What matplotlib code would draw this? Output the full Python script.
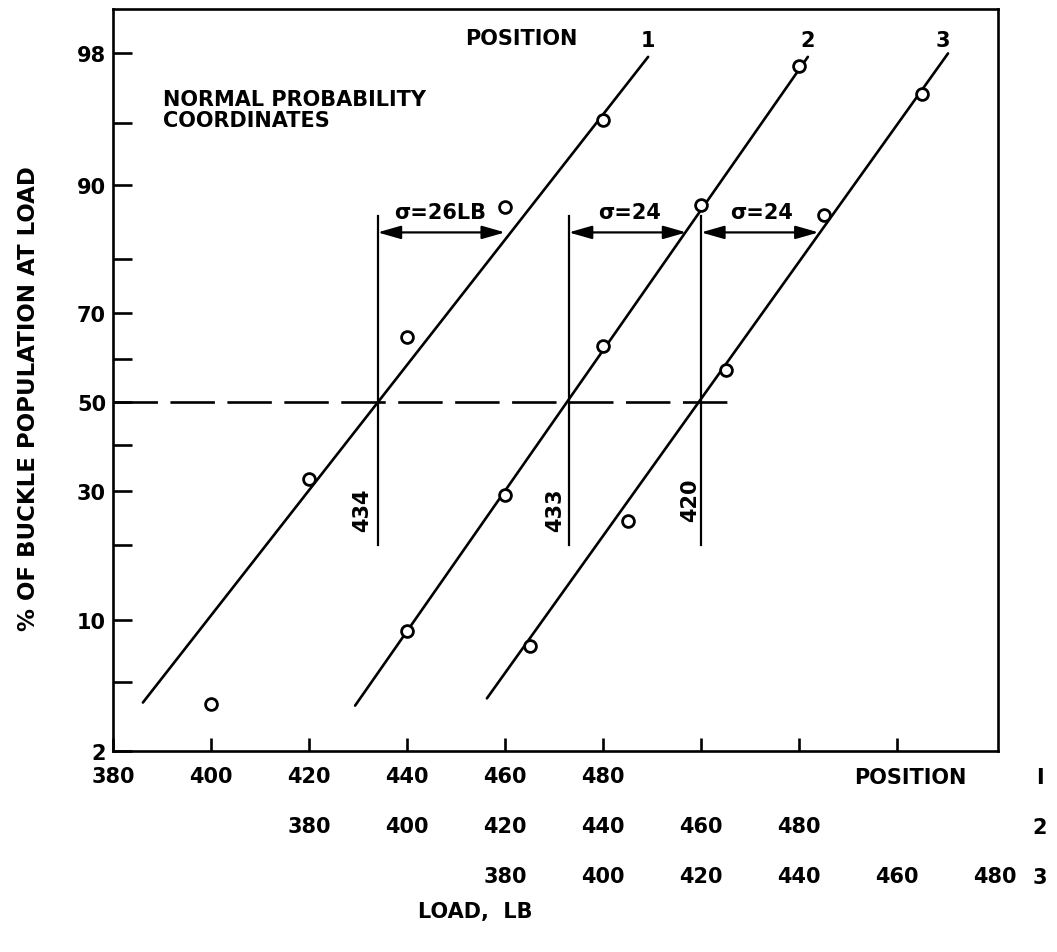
import numpy as np
import matplotlib
matplotlib.use("Agg")
import matplotlib.pyplot as plt
from statistics import NormalDist

# measured points, load in each position's own scale, % buckled
pos1_load = [400, 420, 440, 460, 480]
pos1_pct = [3.8, 32.5, 65.0, 87.5, 95.2]
pos2_load = [400, 420, 440, 460, 480]
pos2_pct = [8.9, 29.2, 63.0, 87.7, 97.6]
pos3_load = [385, 405, 425, 445, 465]
pos3_pct = [7.6, 24.2, 57.5, 86.5, 96.5]

# fitted straight lines (end points)
fit1_load = [386.1, 489.2]
fit1_pct = [3.85, 97.9]
fit2_load = [389.4, 481.8]
fit2_pct = [3.7, 97.9]
fit3_load = [376.3, 470.4]
fit3_pct = [4.06, 98.0]

means = [434, 433, 420]
sigmas = [26, 24, 24]
sigma_text = ["σ=26LB", "σ=24", "σ=24"]
offsets = [0, 40, 80]   # position scales shifted against position 1

y_major = [2, 10, 30, 50, 70, 90, 98]
y_minor = [5, 20, 40, 60, 80, 95]
x_ticks = [380, 400, 420, 440, 460, 480, 500, 520, 540]
x_labels = ["380", "400", "420", "440", "460", "480", "", "", ""]
sec_ticks = [380, 400, 420, 440, 460, 480]

plt.rcParams['font.family'] = ['DejaVu Sans']
plt.rcParams['font.weight'] = 'bold'
plt.rcParams['axes.labelweight'] = 'bold'
plt.rcParams['lines.scale_dashes'] = False

nd = NormalDist()
_ppf = np.vectorize(lambda v: nd.inv_cdf(v / 100.0), otypes=[float])
_cdf = np.vectorize(lambda v: nd.cdf(v) * 100.0, otypes=[float])


def fwd(p):
    p = np.clip(np.asarray(p, dtype=float), 1e-6, 100 - 1e-6)
    return _ppf(p)


def inv(z):
    return _cdf(np.asarray(z, dtype=float))


fig = plt.figure(figsize=(10.57, 9.53), dpi=100)
ax = fig.add_axes([0.1069, 0.2109, 0.8373, 0.7786])
ax.set_yscale('function', functions=(fwd, inv))
ax.set_xlim(380, 560.6)
ax.set_ylim(2, 98.97)

lw = 1.9
for sp in ax.spines.values():
    sp.set_linewidth(lw)

# fitted lines and points
fits = [(fit1_load, fit1_pct), (fit2_load, fit2_pct), (fit3_load, fit3_pct)]
pts = [(pos1_load, pos1_pct), (pos2_load, pos2_pct), (pos3_load, pos3_pct)]
for (fl, fp), (pl, pp), off in zip(fits, pts, offsets):
    ax.plot(np.array(fl) + off, fp, color='black', lw=lw, solid_capstyle='round')
    ax.plot(np.array(pl) + off, pp, 'o', ms=8.5, mfc='white', mec='black', mew=2)

# 50% dashed line
ax.plot([380, 506], [50, 50], color='black', lw=lw, dashes=(32, 9))

# mean lines, sigma arrows
label_x = [430.8, 470.2, 497.8]
label_y = [26.4, 26.4, 28.4]
sig_x = [446.7, 485.5, 512.4]
for m, s, off, t, lx, ly, sx in zip(means, sigmas, offsets, sigma_text,
                                     label_x, label_y, sig_x):
    xm = m + off
    ax.plot([xm, xm], [20, 86.3], color='black', lw=1.6)
    ax.annotate("", xy=(xm + s, 84.13), xytext=(xm, 84.13),
                arrowprops=dict(arrowstyle='<|-|>,head_length=0.7,head_width=0.2',
                                color='black', lw=1.6,
                                shrinkA=0, shrinkB=0, mutation_scale=20))
    ax.text(sx, 86.9, t, fontsize=15, ha='center', va='center')
    ax.text(lx, ly, str(m), fontsize=15, rotation=90, ha='center', va='center')

ax.text(463.3, 98.4, "POSITION", fontsize=15, ha='center', va='center')
for lab, px in zip(["1", "2", "3"], [489.2, 521.8, 549.4]):
    ax.text(px, 98.35, lab, fontsize=15, ha='center', va='center')
ax.text(390.2, 96.75, "NORMAL PROBABILITY\nCOORDINATES", fontsize=15,
        ha='left', va='top', linespacing=1.05)

# axes ticks
ax.set_yticks(y_major)
ax.set_yticklabels([str(v) for v in y_major])
ax.set_yticks(y_minor, minor=True)
ax.yaxis.set_minor_formatter(plt.NullFormatter())
ax.tick_params(axis='y', which='both', direction='in', length=14, width=lw,
               labelsize=15, pad=5)
ax.set_xticks(x_ticks)
ax.set_xticklabels(x_labels)
ax.tick_params(axis='x', direction='in', length=9.5, width=lw, labelsize=15, pad=11)

for k, off in enumerate(offsets[1:], start=1):
    sec = ax.secondary_xaxis(-0.0674 * k, functions=(lambda x, o=off: x - o,
                                                     lambda x, o=off: x + o))
    sec.set_xticks(sec_ticks)
    sec.spines['bottom'].set_visible(False)
    sec.tick_params(axis='x', length=0, labelsize=15, pad=11)

ax.set_ylabel("% OF BUCKLE POPULATION AT LOAD", fontsize=16.5)
ax.yaxis.set_label_coords(-0.083, 0.476)

fig.text(910 / 1057, 1 - 778 / 953, "POSITION", fontsize=15, ha='center', va='center')
for lab, py in zip(["I", "2", "3"], [778, 828, 878]):
    fig.text(1040 / 1057, 1 - py / 953, lab, fontsize=15, ha='center', va='center')
fig.text(475 / 1057, 1 - 912 / 953, "LOAD,  LB", fontsize=15, ha='center', va='center')

fig.savefig("out.png", dpi=100, facecolor='white')
